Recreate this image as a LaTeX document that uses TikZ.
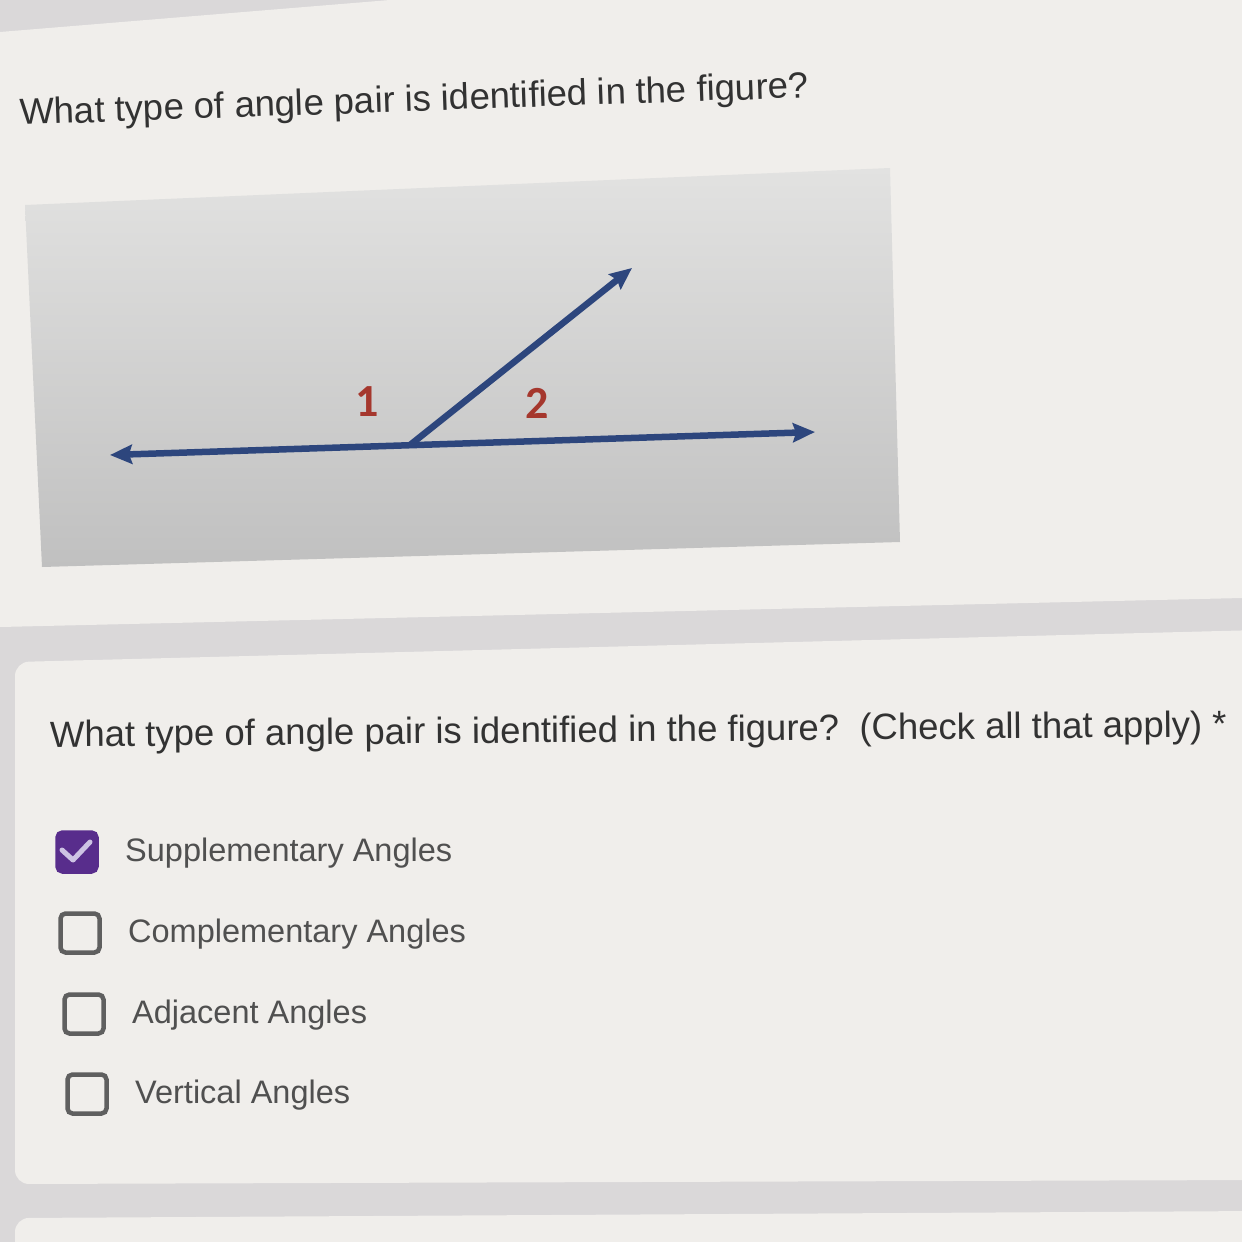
\documentclass[tikz,border=0pt]{standalone}
\usepackage{fontspec}
\setmainfont{Liberation Sans}
\newfontfamily\digitfont{Carlito}
\usetikzlibrary{arrows.meta}
\definecolor{pagegrey}{RGB}{218,216,217}
\definecolor{cardwhite}{RGB}{240,238,235}
\definecolor{figtop}{RGB}{226,226,225}
\definecolor{figbottom}{RGB}{192,192,192}
\definecolor{rayblue}{RGB}{45,70,125}
\definecolor{numred}{RGB}{165,55,45}
\definecolor{textgrey}{RGB}{50,50,50}
\definecolor{optgrey}{RGB}{80,80,80}
\definecolor{boxgrey}{RGB}{95,95,95}
\definecolor{checkpurple}{RGB}{88,45,140}
\definecolor{ticklilac}{RGB}{205,195,228}
\tikzset{
  ray/.style={rayblue, line width=6.5pt},
  num/.style={text=numred, inner sep=0pt, font=\digitfont\bfseries\fontsize{46}{50}\selectfont},
  question/.style={anchor=base west, inner sep=0pt, text=textgrey, font=\fontsize{36.5}{42}\selectfont},
  opt/.style={anchor=base west, inner sep=0pt, text=optgrey, font=\fontsize{32.5}{40}\selectfont},
  cbox/.style={draw=boxgrey, line width=4.5pt, rounded corners=5pt, minimum size=39pt, inner sep=0pt},
  cboxon/.style={fill=checkpurple, draw=checkpurple},
  tick/.style={ticklilac, line width=5pt, line cap=round, line join=round}
}
\begin{document}
\begin{tikzpicture}[x=1pt, y=-1pt, >={Stealth[length=22pt,width=19pt,inset=3pt]}]
\useasboundingbox (0,0) rectangle (1242,1242);
% page and cards
\fill[pagegrey] (0,0) rectangle (1242,1242);
\fill[cardwhite] (0,32) -- (390,0) -- (1242,0) -- (1242,598) -- (0,627) -- cycle;
\fill[cardwhite, rounded corners=14pt] (15,662) -- (1260,630) -- (1260,1180) -- (15,1184) -- cycle;
\fill[cardwhite, rounded corners=14pt] (15,1218) -- (1260,1211) -- (1260,1260) -- (15,1260) -- cycle;
% figure
\shade[top color=figtop, bottom color=figbottom] (25,205) -- (890,168) -- (900,542) -- (42,567) -- cycle;
\coordinate (L) at (110,455);
\coordinate (R) at (815,432);
\coordinate (V) at (410,445);
\coordinate (T) at (632,268);
\draw[ray, <->] (L) -- (R);
\draw[ray, ->] (V) -- (T);
\node[num] (n1) at (367,402) {1};
\node[num] (n2) at (537,403) {2};
% questions
\node[question, rotate=2] (q1) at (20,125) {What type of angle pair is identified in the figure?};
\node[question, rotate=0.5] (q2) at (50,747) {What type of angle pair is identified in the figure?\ \ (Check all that apply) *};
% options
\node[cbox, cboxon] (b1) at (77,852) {};
\draw[tick] (b1.center) ++(-15,-2) -- ++(11,10) -- ++(17,-18);
\node[cbox] (b2) at (80,933) {};
\node[cbox] (b3) at (84,1014) {};
\node[cbox] (b4) at (87,1094) {};
\node[opt] (o1) at (125,861) {Supplementary Angles};
\node[opt] (o2) at (128,942) {Complementary Angles};
\node[opt] (o3) at (132,1023) {Adjacent Angles};
\node[opt] (o4) at (135,1103) {Vertical Angles};
\end{tikzpicture}
\end{document}
